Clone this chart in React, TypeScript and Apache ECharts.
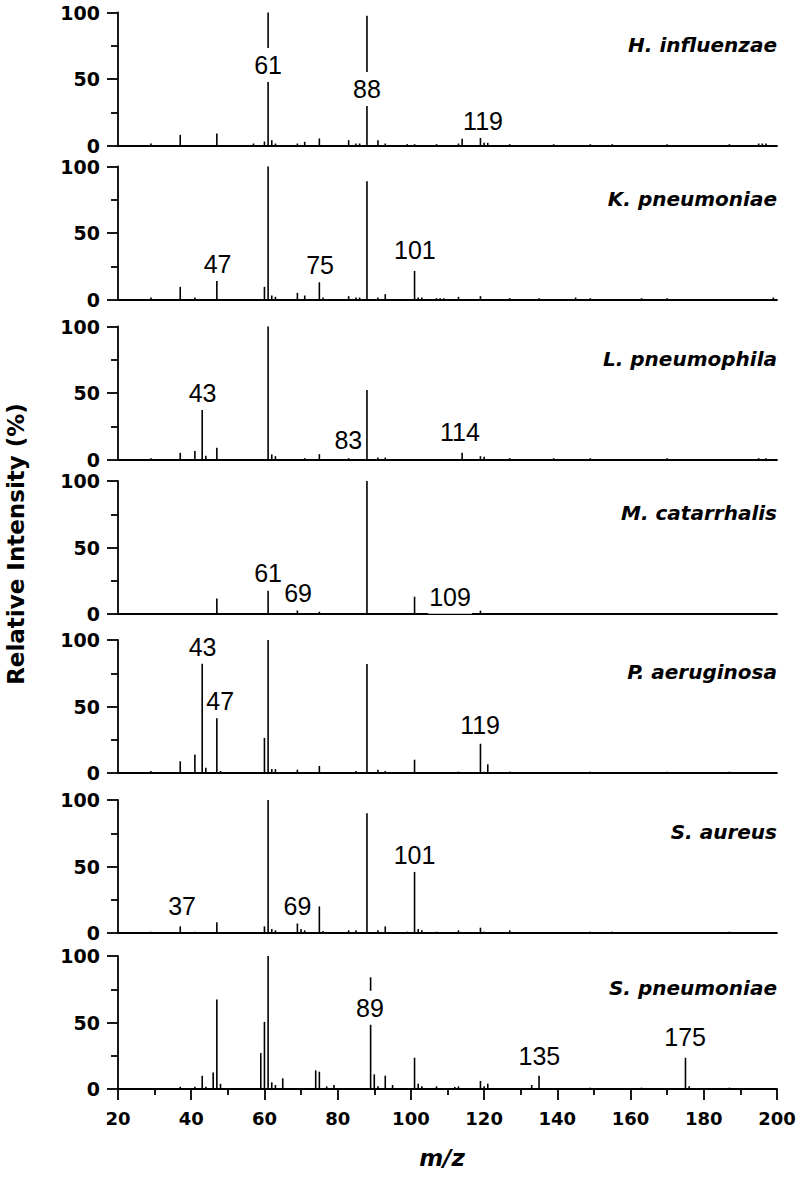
import React, { useEffect, useRef } from "react";
import * as echarts from "echarts";

const panelNames = [
  "H. influenzae",
  "K. pneumoniae",
  "L. pneumophila",
  "M. catarrhalis",
  "P. aeruginosa",
  "S. aureus",
  "S. pneumoniae",
];

const xTicks = [20, 40, 60, 80, 100, 120, 140, 160, 180, 200];
const yTicks = [0, 50, 100];

// [m/z, relative intensity %]
const hInfluenzaePeaks = [
  [29, 1.5], [37, 8], [47, 9], [57, 1.5], [60, 3], [61, 100], [62, 4], [63, 1.5], [69, 1.5], [71, 2.8],
  [75, 5.3], [83, 4], [85, 1.5], [86, 1.5], [88, 97.5], [91, 4], [93, 1.5], [99, 1], [101, 1], [107, 1],
  [113, 1.5], [114, 5], [119, 6.5], [120, 2], [121, 2], [127, 1], [139, 1], [149, 1], [155, 1], [170, 1],
  [187, 1], [195, 1.5], [196, 1.5], [197, 1.5],
];
const kPneumoniaePeaks = [
  [29, 1.5], [37, 9.5], [41, 1.5], [47, 14], [60, 9.5], [61, 100], [62, 3], [63, 2], [69, 5], [71, 3],
  [75, 14], [76, 1.5], [83, 2.5], [85, 1.5], [86, 1.5], [88, 89], [91, 1.5], [93, 4], [101, 21.5], [102, 1.5],
  [103, 1.5], [107, 1], [108, 1], [109, 1], [113, 2], [119, 2.5], [127, 1], [135, 1], [145, 1.5], [149, 1],
  [163, 1], [170, 1], [199, 1.5],
];
const lPneumophilaPeaks = [
  [29, 1], [37, 5], [41, 6.3], [43, 39.7], [44, 2.8], [47, 8.8], [61, 100], [62, 3.8], [63, 2.5], [71, 1],
  [75, 4], [83, 1], [88, 52.3], [91, 1.5], [93, 1.5], [114, 5], [119, 2.5], [120, 2], [127, 1], [139, 1],
  [149, 1], [170, 1], [195, 1], [197, 1],
];
const mCatarrhalisPeaks = [
  [47, 11.7], [61, 17.5], [69, 4.3], [75, 1.7], [88, 100], [101, 13], [119, 2.5],
];
const pAeruginosaPeaks = [
  [29, 1.5], [37, 8.8], [41, 14], [43, 84.4], [44, 4], [47, 42.2], [48, 1.5], [60, 26.4], [61, 100], [62, 3],
  [63, 3], [69, 2.5], [75, 5.3], [85, 1.5], [88, 82], [91, 2.5], [93, 1.5], [101, 10], [113, 1], [119, 22],
  [120, 1], [121, 6.5], [127, 1], [149, 1], [170, 1], [187, 1],
];
const sAureusPeaks = [
  [29, 1], [37, 5], [41, 1], [47, 8], [60, 5], [61, 100], [62, 3], [63, 2], [69, 9], [70, 3],
  [71, 2], [75, 20], [76, 1.5], [83, 2], [85, 2], [88, 90], [91, 2], [93, 5], [99, 1], [101, 46],
  [102, 3], [103, 2], [107, 1], [113, 2], [119, 4], [120, 1], [127, 2], [149, 1], [155, 1], [187, 1],
];
const sPneumoniaePeaks = [
  [37, 1.7], [41, 1.7], [43, 9.9], [44, 1.7], [46, 12.4], [47, 67.3], [48, 3.9], [59, 27], [60, 50.5], [61, 100],
  [62, 5], [63, 3], [65, 8], [74, 14], [75, 13], [77, 2], [79, 3], [89, 84], [90, 11], [91, 2],
  [93, 10], [95, 3], [101, 23.5], [102, 4], [103, 2], [107, 2], [112, 1.5], [113, 2], [119, 6], [120, 2],
  [121, 4], [133, 3], [135, 10], [149, 1], [163, 1], [175, 23.5], [176, 2], [187, 1],
];

// peak annotations: [label x (m/z), label y (%), text]
const hInfluenzaeLabels = [[61, 60.5, "61"], [88, 42.5, "88"], [119.7, 18.5, "119"]];
const kPneumoniaeLabels = [[47.2, 27, "47"], [75.2, 25.7, "75"], [101.1, 37, "101"]];
const lPneumophilaLabels = [[43.1, 50, "43"], [82.9, 14.5, "83"], [113.4, 21, "114"]];
const mCatarrhalisLabels = [[61, 30.5, "61"], [69.2, 15.5, "69"], [110.7, 13, "109"]];
const pAeruginosaLabels = [[43.1, 95, "43"], [47.9, 54, "47"], [118.9, 36, "119"]];
const sAureusLabels = [[37.5, 20, "37"], [69, 20, "69"], [101, 59, "101"]];
const sPneumoniaeLabels = [[88.8, 61, "89"], [135.1, 25, "135"], [174.9, 39, "175"]];

const allPeaks = [
  hInfluenzaePeaks, kPneumoniaePeaks, lPneumophilaPeaks, mCatarrhalisPeaks,
  pAeruginosaPeaks, sAureusPeaks, sPneumoniaePeaks,
];
const allLabels = [
  hInfluenzaeLabels, kPneumoniaeLabels, lPneumophilaLabels, mCatarrhalisLabels,
  pAeruginosaLabels, sAureusLabels, sPneumoniaeLabels,
];

const zeroLines = [145.5, 299.5, 459.5, 614, 773, 933, 1089];
const PANEL_H = 133;
const LEFT = 118;
const RIGHT = 22;

const BOLD = '"DejaVu Sans", sans-serif';

export default function App() {
  const ref = useRef<HTMLDivElement>(null);
  useEffect(() => {
    if (!ref.current) return;
    const chart = echarts.init(ref.current, null, { renderer: "svg" });
    const n = panelNames.length;
    const axisLine = { color: "#000", width: 1.8 };
    const grids = zeroLines.map((z) => ({ left: LEFT, right: RIGHT, top: z - PANEL_H, height: PANEL_H }));
    const xAxes = zeroLines.map((_, i) => {
      const last = i === n - 1;
      return {
        type: "value",
        gridIndex: i,
        min: xTicks[0],
        max: xTicks[xTicks.length - 1],
        interval: xTicks[1] - xTicks[0],
        axisLine: { show: true, onZero: false, lineStyle: axisLine },
        axisTick: { show: last, length: 11, lineStyle: axisLine },
        minorTick: { show: last, splitNumber: 2, length: 6, lineStyle: axisLine },
        axisLabel: {
          show: last, margin: 20, color: "#000", fontFamily: BOLD, fontWeight: "bold", fontSize: 18,
        },
        splitLine: { show: false },
      };
    });
    const yAxes = zeroLines.map((_, i) => ({
      type: "value",
      gridIndex: i,
      min: yTicks[0],
      max: yTicks[yTicks.length - 1],
      interval: yTicks[1] - yTicks[0],
      axisLine: { show: true, lineStyle: axisLine },
      axisTick: { show: true, length: 11, lineStyle: axisLine },
      minorTick: { show: true, splitNumber: 2, length: 7, lineStyle: axisLine },
      axisLabel: { margin: 18, color: "#000", fontFamily: BOLD, fontWeight: "bold", fontSize: 19 },
      splitLine: { show: false },
    }));
    const series: any[] = [];
    allPeaks.forEach((peaks, i) => {
      series.push({
        type: "custom",
        xAxisIndex: i,
        yAxisIndex: i,
        silent: true,
        z: 2,
        data: peaks,
        renderItem: (_p: any, api: any) => {
          const x = api.value(0);
          const y = api.value(1);
          const p0 = api.coord([x, 0]);
          const p1 = api.coord([x, y]);
          return {
            type: "line",
            shape: { x1: p0[0], y1: p0[1], x2: p1[0], y2: p1[1] },
            style: { stroke: "#000", lineWidth: 1.6 },
          };
        },
      });
      series.push({
        type: "scatter",
        xAxisIndex: i,
        yAxisIndex: i,
        silent: true,
        z: 5,
        symbolSize: 1,
        itemStyle: { color: "rgba(0,0,0,0)" },
        data: allLabels[i].map((l) => ({ value: [l[0], l[1]], name: l[2] })),
        label: {
          show: true,
          position: "inside",
          formatter: (p: any) => p.name,
          color: "#000",
          opacity: 1,
          textBorderWidth: 0,
          fontFamily: '"Liberation Sans", Arial, sans-serif',
          fontSize: 25,
          lineHeight: 24,
          backgroundColor: "#fff",
          padding: [5, 1],
        },
      });
    });
    const graphic: any[] = panelNames.map((name, i) => ({
      type: "text",
      x: 799 - RIGHT,
      y: zeroLines[i] - PANEL_H + 32,
      style: {
        text: name,
        align: "right",
        verticalAlign: "middle",
        font: `italic bold 20px ${BOLD}`,
        fill: "#000",
      },
    }));
    graphic.push({
      type: "text",
      x: 16,
      y: 544,
      rotation: Math.PI / 2,
      style: {
        text: "Relative Intensity (%)",
        align: "center",
        verticalAlign: "middle",
        font: `bold 23px ${BOLD}`,
        fill: "#000",
      },
    });
    graphic.push({
      type: "text",
      x: 442,
      y: 1158,
      style: {
        text: "m/z",
        align: "center",
        verticalAlign: "middle",
        font: `italic bold 23px ${BOLD}`,
        fill: "#000",
      },
    });
    chart.setOption({
      animation: false,
      backgroundColor: "#fff",
      grid: grids,
      xAxis: xAxes,
      yAxis: yAxes,
      series,
      graphic,
    });
    return () => chart.dispose();
  }, []);
  return (
    <div
      ref={ref}
      style={{ position: "absolute", left: 0, top: 0, width: 799, height: 1179, background: "#fff" }}
    />
  );
}
